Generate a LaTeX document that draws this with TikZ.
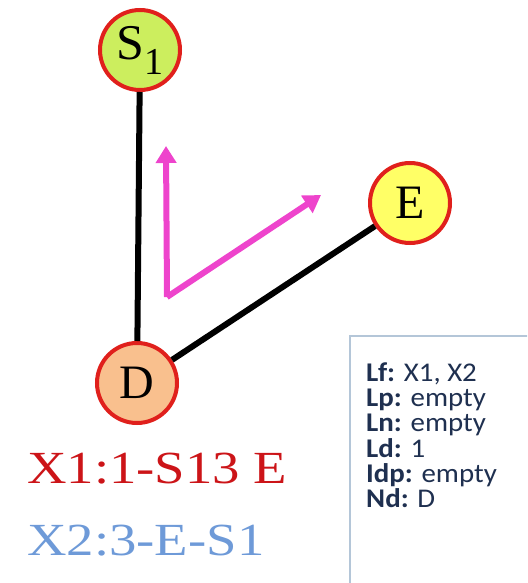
\documentclass[tikz,border=0pt]{standalone}
\usepackage{fontspec}
\setmainfont{Liberation Serif}
\newfontfamily\boxfont{Carlito}
\usetikzlibrary{arrows.meta}
\definecolor{ringred}{HTML}{E0201C}
\definecolor{sgreen}{HTML}{CCEE5E}
\definecolor{eyellow}{HTML}{FFFF66}
\definecolor{dpeach}{HTML}{F9C08E}
\definecolor{vecpink}{HTML}{EE44CC}
\definecolor{pathred}{HTML}{CC1418}
\definecolor{pathblue}{HTML}{6E9AD8}
\definecolor{boxedge}{HTML}{B4C6D8}
\definecolor{boxtext}{HTML}{1F3050}
\tikzset{
  station/.style={circle, draw=ringred, line width=4pt, minimum size=80pt,
    inner sep=0pt, font=\fontsize{48}{48}\selectfont},
  link/.style={line width=6pt, black},
  vec/.style={line width=6pt, vecpink, -{Triangle[length=17pt,width=20pt]}},
  pathlabel/.style={anchor=base west, inner sep=0pt,
    font=\fontsize{46}{46}\selectfont, xscale=1.19},
  tableline/.style={anchor=base west, inner sep=0pt, text=boxtext,
    font=\boxfont\fontsize{27}{27}\selectfont, xscale=1.07},
}
\begin{document}
\begin{tikzpicture}[x=1pt,y=-1pt]
\useasboundingbox (0,0) rectangle (527,583);
\clip (0,0) rectangle (527,583);

% stations
\node[station, fill=sgreen] (s1) at (140,50)
  {\fontsize{50}{50}\selectfont S\raisebox{-0.3em}{\fontsize{38}{38}\selectfont 1}};
\node[station, fill=eyellow] (e) at (410,203) {E};
\node[station, fill=dpeach] (d) at (137,383) {D};

% links
\draw[link] (s1) -- (d);
\draw[link] (d) -- (e);

% direction vectors
\coordinate (o) at (167,297);
\coordinate (up) at (166,146);
\coordinate (rt) at (321,195);
\draw[vec] (o) -- (up);
\draw[vec] (o) -- (rt);

% path labels
\node[pathlabel, text=pathred] (p1) at (27,483) {X1:1-S13 E};
\node[pathlabel, text=pathblue] (p2) at (27,555) {X2:3-E-S1};

% state table
\draw[boxedge, line width=1.5pt, fill=white] (350,336) rectangle (540,600);
\node[tableline] (lf)  at (366,381) {\textbf{Lf:} X1, X2};
\node[tableline] (lp)  at (366,406) {\textbf{Lp:} empty};
\node[tableline] (ln)  at (366,431) {\textbf{Ln:} empty};
\node[tableline] (ld)  at (366,457) {\textbf{Ld:} 1};
\node[tableline] (idp) at (366,482) {\textbf{Idp:} empty};
\node[tableline] (nd)  at (366,507) {\textbf{Nd:} D};
\end{tikzpicture}
\end{document}
